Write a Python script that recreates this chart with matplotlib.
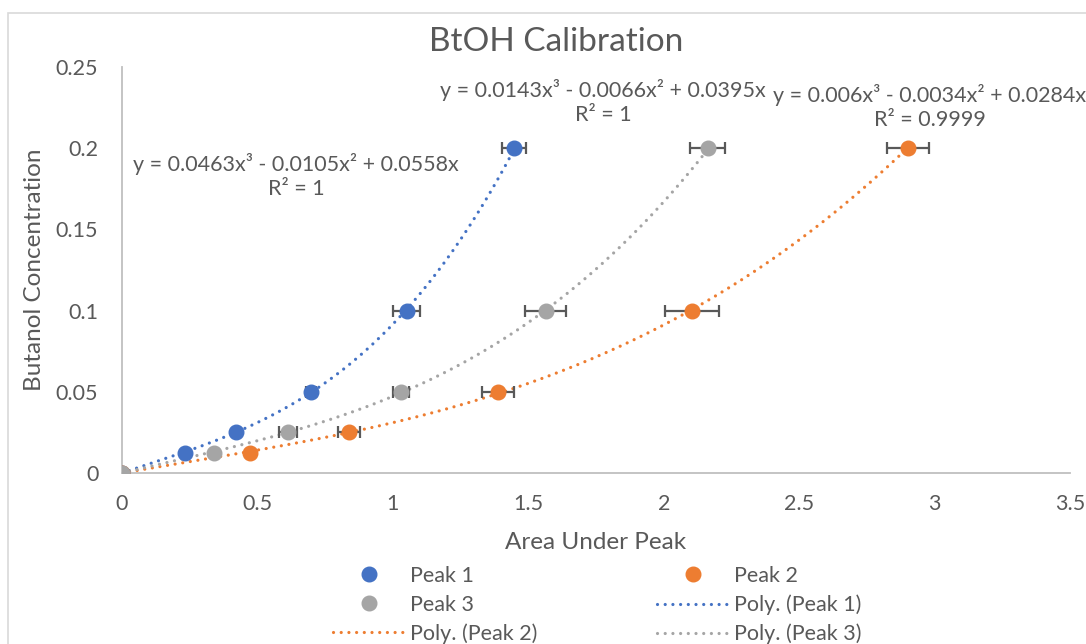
import numpy as np
import matplotlib.pyplot as plt
from matplotlib.lines import Line2D
from matplotlib.patches import Rectangle

plt.rcParams['font.family'] = ['Lato', 'DejaVu Sans']

# concentrations (same for all peaks)
conc = [0, 0.0125, 0.025, 0.05, 0.1, 0.2]

peak1_area = [0, 0.233, 0.42, 0.698, 1.052, 1.447]
peak2_area = [0, 0.472, 0.838, 1.388, 2.104, 2.901]
peak3_area = [0, 0.34, 0.613, 1.03, 1.565, 2.163]

peak1_err = [0, 0, 0, 0.02, 0.05, 0.043]
peak2_err = [0, 0, 0.04, 0.06, 0.1, 0.077]
peak3_err = [0, 0, 0.033, 0.03, 0.076, 0.065]

# cubic fits (a3, a2, a1), no intercept
peak1_fit = [0.0463, -0.0105, 0.0558]
peak2_fit = [0.006, -0.0034, 0.0284]
peak3_fit = [0.0143, -0.0066, 0.0395]
peak1_r2 = '1'
peak2_r2 = '0.9999'
peak3_r2 = '1'

blue = '#4472C4'
orange = '#ED7D31'
grey = '#A5A5A5'
txt = '#595959'
fs = 15.5

fig = plt.figure(figsize=(10.86, 6.44), dpi=100)
ax = fig.add_axes([0.1123, 0.2655, 0.873, 0.6305])

fig.patches.append(Rectangle((8 / 1086, -0.1), 1.2, 1 - 13 / 644 + 0.1,
                             transform=fig.transFigure, fill=False,
                             edgecolor='#D9D9D9', linewidth=1.2))


def poly_label(c):
    return ('y = {}x\u00b3 - {}x\u00b2 + {}x'.format(c[0], -c[1], c[2]))


def trend(c, xmax):
    x = np.linspace(0, xmax, 200)
    return x, c[0] * x**3 + c[1] * x**2 + c[2] * x


dots = (0, (0.01, 2.4))
lw_dot = 2.3
series = [
    (peak1_area, peak1_err, peak1_fit, blue),
    (peak2_area, peak2_err, peak2_fit, orange),
    (peak3_area, peak3_err, peak3_fit, grey),
]
for area, err, fit, col in series:
    xs, ys = trend(fit, max(area))
    ax.plot(xs, ys, color=col, linestyle=dots, linewidth=lw_dot,
            dash_capstyle='round', zorder=2)

for area, err, fit, col in series:
    ax.errorbar(area, conc, xerr=err, fmt='none', ecolor=txt,
                elinewidth=1.6, capsize=4.5, capthick=1.6, zorder=3)
    ax.plot(area, conc, 'o', color=col, markersize=10.5, zorder=4)

# equation labels
eq_kw = dict(ha='center', va='center', fontsize=fs, color=txt,
             linespacing=1.25, clip_on=False)
ax.text(0.642, 0.183, poly_label(peak1_fit) + '\nR\u00b2 = ' + peak1_r2, **eq_kw)
ax.text(1.776, 0.2285, poly_label(peak3_fit) + '\nR\u00b2 = ' + peak3_r2, **eq_kw)
ax.text(2.983, 0.2255, poly_label(peak2_fit) + '\nR\u00b2 = ' + peak2_r2, **eq_kw)

ax.set_xlim(0, 3.5)
ax.set_ylim(0, 0.25)
ax.set_xticks([0, 0.5, 1, 1.5, 2, 2.5, 3, 3.5])
ax.set_xticklabels(['0', '0.5', '1', '1.5', '2', '2.5', '3', '3.5'])
ax.set_yticks([0, 0.05, 0.1, 0.15, 0.2, 0.25])
ax.set_yticklabels(['0', '0.05', '0.1', '0.15', '0.2', '0.25'])
ax.tick_params(length=0, labelsize=fs, labelcolor=txt)
ax.tick_params(axis='y', pad=17)
ax.tick_params(axis='x', pad=15)
for s in ['top', 'right']:
    ax.spines[s].set_visible(False)
for s in ['left', 'bottom']:
    ax.spines[s].set_color('#BFBFBF')
    ax.spines[s].set_linewidth(1.3)

fig.text(556 / 1086, 1 - 42 / 644, 'BtOH Calibration', fontsize=24,
         color=txt, ha='center', va='center')
ax.set_xlabel('Area Under Peak', fontsize=17.5, color=txt)
ax.set_ylabel('Butanol Concentration', fontsize=17.5, color=txt)
ax.xaxis.set_label_coords(0.5, -0.172)
ax.yaxis.set_label_coords(-0.0918, 0.5)
ax.xaxis.label.set_va('center')
ax.yaxis.label.set_va('center')

h_p1 = Line2D([], [], marker='o', color=blue, linestyle='none', markersize=10.5)
h_p2 = Line2D([], [], marker='o', color=orange, linestyle='none', markersize=10.5)
h_p3 = Line2D([], [], marker='o', color=grey, linestyle='none', markersize=10.5)
h_t1 = Line2D([], [], color=blue, linestyle=dots, linewidth=lw_dot, dash_capstyle='round')
h_t2 = Line2D([], [], color=orange, linestyle=dots, linewidth=lw_dot, dash_capstyle='round')
h_t3 = Line2D([], [], color=grey, linestyle=dots, linewidth=lw_dot, dash_capstyle='round')

# two single-column legends side by side
leg_kw = dict(loc='upper left', frameon=False, fontsize=fs,
              handlelength=72 / 21.5, handletextpad=0.25,
              labelspacing=0.4, borderpad=0, borderaxespad=0)
leg1 = fig.legend([h_p1, h_p3, h_t2], ['Peak 1', 'Peak 3', 'Poly. (Peak 2)'],
                  bbox_to_anchor=(333 / 1086, 1 - 566 / 644), **leg_kw)
leg2 = fig.legend([h_p2, h_t1, h_t3], ['Peak 2', 'Poly. (Peak 1)', 'Poly. (Peak 3)'],
                  bbox_to_anchor=(657 / 1086, 1 - 566 / 644), **leg_kw)
for leg in (leg1, leg2):
    for t in leg.get_texts():
        t.set_color(txt)

fig.savefig('out.png', dpi=100)
